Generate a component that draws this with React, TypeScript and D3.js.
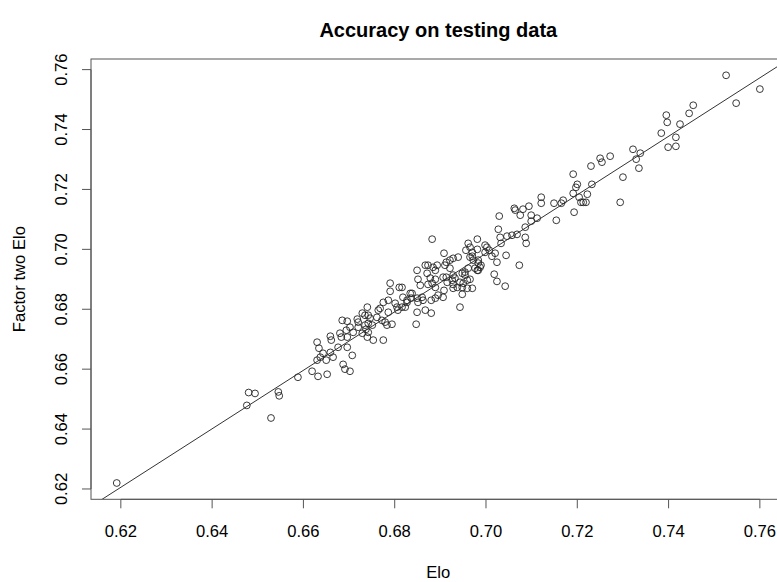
import React from 'react';
import * as d3 from 'd3';

// Elo accuracy (x) vs factor-two Elo accuracy (y), one entry per test run
const eloAcc = [
  0.6191, 0.648, 0.6494, 0.6476, 0.6545, 0.6547, 0.6529, 0.6588, 0.6619, 0.6632,
  0.6652, 0.663, 0.665, 0.6665, 0.6637, 0.6643, 0.6659, 0.663, 0.6634, 0.6659,
  0.6676, 0.6696, 0.6707, 0.6687, 0.6691, 0.6702, 0.6683, 0.6696, 0.668, 0.6661,
  0.6685, 0.6696, 0.6702, 0.6694, 0.6709, 0.6718, 0.672, 0.6729, 0.6735, 0.6742,
  0.6746, 0.6761, 0.674, 0.6735, 0.6742, 0.6751, 0.672, 0.6729, 0.6737, 0.6742,
  0.674, 0.6753, 0.6775, 0.6764, 0.6768, 0.6775, 0.6786, 0.6786, 0.6772, 0.6779,
  0.6783, 0.6794, 0.6805, 0.6807, 0.6801, 0.6816, 0.6823, 0.6827, 0.6818, 0.6827,
  0.6834, 0.6836, 0.679, 0.679, 0.681, 0.6847, 0.6849, 0.6851, 0.6867, 0.6873,
  0.6884, 0.6889, 0.6871, 0.6878, 0.6889, 0.6873, 0.6856, 0.6893, 0.6849, 0.6851,
  0.6862, 0.688, 0.6889, 0.6849, 0.6867, 0.688, 0.6816, 0.6838, 0.686, 0.6882,
  0.6889, 0.6882, 0.6908, 0.6913, 0.6921, 0.691, 0.6939, 0.6928, 0.6956, 0.6961,
  0.6965, 0.6981, 0.6981, 0.697, 0.697, 0.6983, 0.6989, 0.6921, 0.6926, 0.6913,
  0.6928, 0.6906, 0.6915, 0.6948, 0.6954, 0.6954, 0.6961, 0.6959, 0.6932, 0.6943,
  0.695, 0.6937, 0.6948, 0.6959, 0.697, 0.6928, 0.6908, 0.6928, 0.6981, 0.6987,
  0.6943, 0.6948, 0.6895, 0.6906, 0.6998, 0.7002, 0.7007, 0.6998, 0.702, 0.7044,
  0.7013, 0.7024, 0.7073, 0.6965, 0.6972, 0.6983, 0.6976, 0.6983, 0.6965, 0.7018,
  0.7024, 0.7042, 0.7033, 0.7031, 0.7046, 0.7057, 0.7068, 0.7086, 0.7088, 0.7027,
  0.7086, 0.7029, 0.7062, 0.7064, 0.7081, 0.7075, 0.7094, 0.7099, 0.7099, 0.7112,
  0.7121, 0.7121, 0.7154, 0.7149, 0.7165, 0.7169, 0.7193, 0.7191, 0.7204, 0.7208,
  0.7213, 0.7219, 0.7222, 0.7294, 0.7191, 0.72, 0.7197, 0.7232, 0.723, 0.725,
  0.7254, 0.7272, 0.73, 0.7322, 0.7338, 0.7329, 0.7335, 0.7384, 0.7395, 0.7397,
  0.7399, 0.7416, 0.7416, 0.7425, 0.7445, 0.7454, 0.7526, 0.7548, 0.76,
];

const factorTwoAcc = [
  0.622, 0.6522, 0.6519, 0.6479, 0.6524, 0.6511, 0.6437, 0.6573, 0.6593, 0.6576,
  0.6583, 0.663, 0.663, 0.664, 0.664, 0.6653, 0.6656, 0.669, 0.667, 0.671,
  0.6673, 0.6673, 0.6646, 0.6616, 0.66, 0.6593, 0.6707, 0.6707, 0.672, 0.6697,
  0.6763, 0.676, 0.674, 0.673, 0.6723, 0.6767, 0.6757, 0.6787, 0.678, 0.678,
  0.677, 0.6773, 0.6807, 0.6747, 0.6753, 0.6747, 0.674, 0.672, 0.6733, 0.6723,
  0.6707, 0.6697, 0.6697, 0.6797, 0.6803, 0.6823, 0.683, 0.679, 0.6763, 0.6757,
  0.6747, 0.675, 0.6807, 0.6797, 0.682, 0.6807, 0.6807, 0.683, 0.684, 0.6823,
  0.6853, 0.6837, 0.6887, 0.686, 0.6873, 0.675, 0.693, 0.69, 0.6947, 0.6947,
  0.694, 0.693, 0.692, 0.6904, 0.69, 0.6883, 0.688, 0.6947, 0.6837, 0.6823,
  0.683, 0.683, 0.6837, 0.679, 0.6797, 0.6787, 0.6873, 0.6853, 0.684, 0.6887,
  0.6873, 0.7034, 0.6987, 0.6957, 0.6964, 0.6947, 0.6974, 0.697, 0.6997, 0.702,
  0.7007, 0.7, 0.7034, 0.699, 0.6977, 0.6964, 0.6947, 0.6937, 0.6897, 0.6907,
  0.6914, 0.6907, 0.689, 0.692, 0.6924, 0.6914, 0.6937, 0.6897, 0.6904, 0.689,
  0.6887, 0.6873, 0.6873, 0.687, 0.687, 0.687, 0.6863, 0.6883, 0.693, 0.694,
  0.6807, 0.685, 0.6847, 0.684, 0.7014, 0.7007, 0.6997, 0.699, 0.6987, 0.698,
  0.6977, 0.6957, 0.6947, 0.6974, 0.6964, 0.6954, 0.6937, 0.693, 0.69, 0.6917,
  0.6893, 0.6877, 0.702, 0.704, 0.7044, 0.7047, 0.705, 0.704, 0.702, 0.7067,
  0.7074, 0.7111, 0.7137, 0.7131, 0.7134, 0.7114, 0.7144, 0.7114, 0.7094, 0.7104,
  0.7174, 0.7154, 0.7097, 0.7154, 0.7154, 0.7164, 0.7124, 0.7187, 0.7174, 0.7157,
  0.7157, 0.7157, 0.7184, 0.7157, 0.7251, 0.7217, 0.7207, 0.7217, 0.7278, 0.7304,
  0.7291, 0.7311, 0.7241, 0.7334, 0.7321, 0.7301, 0.7271, 0.7388, 0.7448, 0.7424,
  0.7341, 0.7344, 0.7374, 0.7418, 0.7454, 0.7481, 0.7581, 0.7488, 0.7535,
];

const xTicks = [0.62, 0.64, 0.66, 0.68, 0.7, 0.72, 0.74, 0.76];
const yTicks = [0.62, 0.64, 0.66, 0.68, 0.7, 0.72, 0.74, 0.76];

// fitted line drawn over the points
const lineIntercept = 0.0152;
const lineSlope = 0.9764;

const titleText = 'Accuracy on testing data';
const xLabel = 'Elo';
const yLabel = 'Factor two Elo';

const W = 777;
const H = 582;
// plot region (R device coords), right edge runs past the picture
const plot = { left: 91, right: 785.6, top: 59, bottom: 499.3 };
const FONT = '"Liberation Sans", Arial, Helvetica, sans-serif';
const AXIS_COLOR = '#555';

// R style limits: data range widened by 4% on each side
const padRange = (vals: number[]) => {
  const [lo, hi] = d3.extent(vals) as [number, number];
  const pad = (hi - lo) * 0.04;
  return [lo - pad, hi + pad];
};

const App: React.FC = () => {
  const x = d3.scaleLinear().domain(padRange(eloAcc)).range([plot.left, plot.right]);
  const y = d3.scaleLinear().domain(padRange(factorTwoAcc)).range([plot.bottom, plot.top]);
  const points = eloAcc.map((e, i) => ({ e, f: factorTwoAcc[i] }));

  const [x0, x1] = x.domain();
  const fitLine = d3
    .line<number>()
    .x((d) => x(d))
    .y((d) => y(lineIntercept + lineSlope * d));

  const tickLen = 9;
  const cx = (plot.left + plot.right) / 2;

  return (
    <svg
      width={W}
      height={H}
      style={{ position: 'absolute', left: 0, top: 0, background: '#fff' }}
      fontFamily={FONT}
    >
      <defs>
        <clipPath id="plotClip">
          <rect x={plot.left} y={plot.top} width={plot.right - plot.left} height={plot.bottom - plot.top} />
        </clipPath>
      </defs>
      <rect width={W} height={H} fill="#fff" />

      <text x={cx} y={37} textAnchor="middle" fontSize={20} fontWeight="bold" fill="#000">
        {titleText}
      </text>

      {/* points */}
      <g fill="none" stroke="#222" strokeWidth={0.9}>
        {points.map((p, i) => (
          <circle key={i} cx={x(p.e)} cy={y(p.f)} r={3.4} />
        ))}
      </g>

      {/* fitted line */}
      <path d={fitLine([x0, x1]) || ''} stroke="#333" strokeWidth={1} fill="none" clipPath="url(#plotClip)" />

      {/* box */}
      <rect
        x={plot.left}
        y={plot.top}
        width={plot.right - plot.left}
        height={plot.bottom - plot.top}
        fill="none"
        stroke={AXIS_COLOR}
        strokeWidth={1}
      />

      {/* x axis */}
      <g stroke={AXIS_COLOR} strokeWidth={1}>
        <line x1={x(xTicks[0])} x2={x(xTicks[xTicks.length - 1])} y1={plot.bottom} y2={plot.bottom} />
        {xTicks.map((t) => (
          <line key={t} x1={x(t)} x2={x(t)} y1={plot.bottom} y2={plot.bottom + tickLen} />
        ))}
      </g>
      <g fontSize={16.6} fill="#000" textAnchor="middle">
        {xTicks.map((t) => (
          <text key={t} x={x(t)} y={536.7}>
            {t.toFixed(2)}
          </text>
        ))}
      </g>
      <text x={cx} y={577.5} textAnchor="middle" fontSize={16.6} fill="#000">
        {xLabel}
      </text>

      {/* y axis */}
      <g stroke={AXIS_COLOR} strokeWidth={1}>
        <line x1={plot.left} x2={plot.left} y1={y(yTicks[0])} y2={y(yTicks[yTicks.length - 1])} />
        {yTicks.map((t) => (
          <line key={t} x1={plot.left - tickLen} x2={plot.left} y1={y(t)} y2={y(t)} />
        ))}
      </g>
      <g fontSize={16.6} fill="#000" textAnchor="middle">
        {yTicks.map((t) => (
          <text key={t} transform={`translate(66.5,${y(t)}) rotate(-90)`}>
            {t.toFixed(2)}
          </text>
        ))}
      </g>
      <text
        transform={`translate(25,${(plot.top + plot.bottom) / 2}) rotate(-90)`}
        textAnchor="middle"
        fontSize={16.6}
        fill="#000"
      >
        {yLabel}
      </text>
    </svg>
  );
};

export default App;
